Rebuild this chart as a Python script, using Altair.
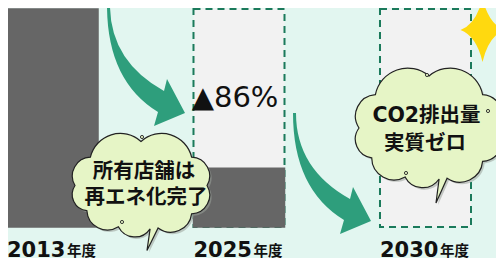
import math
import altair as alt
import pandas as pd

# ---------------- data ----------------
years = ["2013", "2025", "2030"]
emission_share = [100, 27, 0]        # gray bars, % of the 2013 level
reference_level = [0, 100, 100]      # dashed outline = 2013 level
year_suffix = "年度"
reduction_label = "▲86%"
cloud_left_lines = ["所有店舗は", "再エネ化完了"]
cloud_right_lines = ["CO2排出量", "実質ゼロ"]

df = pd.DataFrame({"year": years, "share": emission_share, "reference": reference_level})

# ---------------- styles ----------------
BG = "#e2f6f0"
GRAY = "#666666"
LIGHT = "#f2f2f2"
DASH = "#1b7a5b"
ARROW = "#2e9e7c"
CLOUD = "#e6f5c6"
STAR = "#ffd90f"
TXT = "#111111"
LATIN = "DejaVu Sans, Noto Sans CJK JP"
CJK = "Noto Sans CJK JP"


def fmt(p):
    return f"{p[0]:.1f} {p[1]:.1f}"


def cloud_path(a, b, angles, tail_idx, tip, bulge=0.58):
    pts = [(a * math.cos(math.radians(t)), b * math.sin(math.radians(t))) for t in angles]
    n = len(pts)
    d = "M " + fmt(pts[0])
    for i in range(n):
        p0 = pts[i]
        p1 = pts[(i + 1) % n]
        if i == tail_idx:
            vx, vy = p1[0] - p0[0], p1[1] - p0[1]
            L = math.hypot(vx, vy)
            s = (p0[0] + vx / L * 8, p0[1] + vy / L * 8 + 1)
            d += " L " + fmt(tip) + " L " + fmt(s)
            p0 = s
        c = math.hypot(p1[0] - p0[0], p1[1] - p0[1])
        r = c * bulge
        d += f" A {r:.1f} {r:.1f} 0 0 1 " + fmt(p1)
    return d + " Z"


ANGLES = [-140, -90, -40, 0, 40, 75, 110, 145, 180]
cloud1 = cloud_path(66, 44, ANGLES, 5, (6, 65))
cloud2 = cloud_path(70, 52, ANGLES, 5, (7, 75))

arrow = "M 0 0 L 3 0 Q 3 56 57 86 L 60 74 L 78 108 L 47 121 L 51 107 Q 0 76 0 0 Z"
star = "M 0 -32 Q 6 -6 22 0 Q 6 6 0 32 Q -6 6 -22 0 Q -6 -6 0 -32 Z"

one = alt.Data(values=[{"k": 0}])


def shape(path, x, y, fill, stroke="transparent", sw=0.0, opacity=1.0):
    return alt.Chart(one).mark_point(
        shape=path, size=4, filled=True, fill=fill, stroke=stroke,
        strokeWidth=sw, opacity=opacity,
    ).encode(x=alt.value(x), y=alt.value(y))


def curl(x, y):
    return alt.Chart(one).mark_point(
        shape="circle", size=10, filled=True, fill=CLOUD, stroke="#222222",
        strokeWidth=0.9, opacity=1,
    ).encode(x=alt.value(x), y=alt.value(y))


def label(text, x, y, size, font, weight="bold", align="center", baseline="middle"):
    return alt.Chart(one).mark_text(
        text=text, font=font, fontSize=size, fontWeight=weight, color=TXT,
        align=align, baseline=baseline,
    ).encode(x=alt.value(x), y=alt.value(y))


xs = alt.Scale(domain=years, range=[-1, 463], paddingInner=0.512, paddingOuter=0)
ys = alt.Scale(domain=[0, 100], range=[219, 1])
x_enc = alt.X("year:N", sort=years, scale=xs, axis=None)
x_start = alt.X("year:N", sort=years, scale=xs, axis=None, bandPosition=0)

boxes = alt.Chart(df).transform_filter("datum.reference > 0").mark_bar(
    fill=LIGHT, stroke=DASH, strokeWidth=2, strokeDash=[7, 5]
).encode(x=x_enc, y=alt.Y("reference:Q", scale=ys, axis=None))

bars = alt.Chart(df).transform_filter("datum.share > 0").mark_bar(
    fill=GRAY, stroke=GRAY, strokeWidth=1.5
).encode(x=x_enc, y=alt.Y("share:Q", scale=ys, axis=None))

year_text = alt.Chart(df).mark_text(
    font="DejaVu Sans", fontSize=21, fontWeight="bold", color=TXT,
    align="left", baseline="alphabetic",
).encode(x=x_start, y=alt.value(248.5), text="year:N")

suffix_text = alt.Chart(df).mark_text(
    text=year_suffix, font=CJK, fontSize=14.5, fontWeight="bold", color=TXT,
    align="left", baseline="alphabetic", dx=60,
).encode(x=x_start, y=alt.value(247.5))

reduction = alt.Chart(df).transform_filter("datum.year == '2025'").mark_text(
    text=reduction_label, font="DejaVu Sans", fontSize=29, color=TXT,
    align="center", baseline="alphabetic", dx=-4,
).encode(x=x_enc, y=alt.value(99))

layers = [
    boxes,
    bars,
    shape(arrow, 99, -3, ARROW),
    shape(arrow, 285, 105, ARROW),
    shape(cloud1, 135, 179.5, "#9aa39a", opacity=0.55),
    shape(cloud2, 423, 122, "#9aa39a", opacity=0.55),
    shape(cloud1, 133, 177.5, CLOUD, stroke="#222222", sw=1.2),
    shape(cloud2, 421, 120, CLOUD, stroke="#222222", sw=1.2),
    curl(134, 129),
    curl(114, 214),
    curl(419, 67),
    curl(398, 165),
    curl(480, 103),
    label(cloud_left_lines[0], 136, 164, 20.5, CJK),
    label(cloud_left_lines[1], 138, 189.5, 20.5, CJK),
    label(cloud_right_lines[0], 418.5, 108, 20.5, LATIN),
    label(cloud_right_lines[1], 417, 136, 20.5, CJK),
    reduction,
    year_text,
    suffix_text,
    shape(star, 474.5, 22, STAR),
]

chart = alt.layer(*layers).properties(
    width=488, height=250, background=BG, padding=0,
    autosize=alt.AutoSizeParams(type="none"),
).configure_view(strokeWidth=0)

chart.save("out.html", embed_options={"renderer": "svg", "actions": False})
